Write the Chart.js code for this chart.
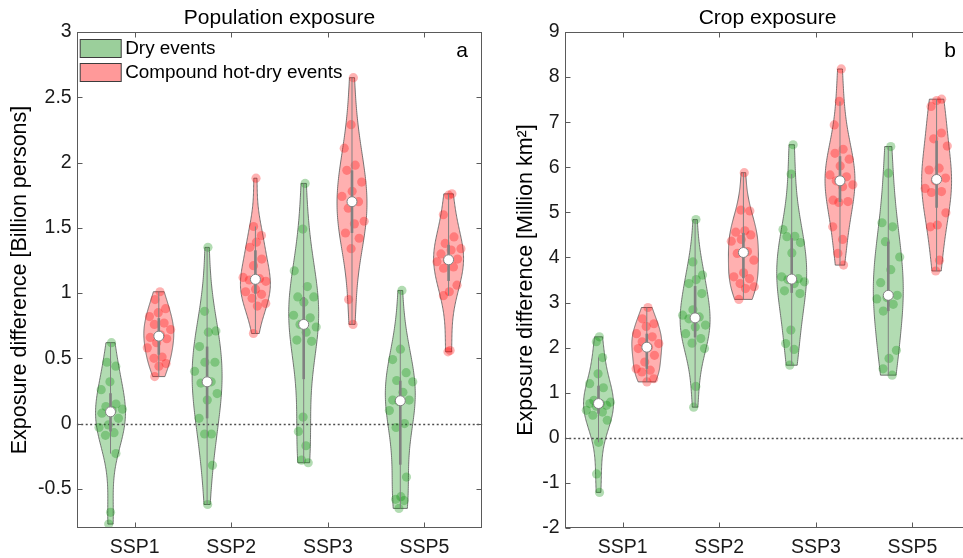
<!DOCTYPE html>
<html>
<head>
<meta charset="utf-8">
<title>Exposure difference</title>
<script src="https://cdn.jsdelivr.net/npm/chart.js@4.4.1/dist/chart.umd.min.js"></script>
<style>
  html, body { margin: 0; padding: 0; background: #fff; }
  body { width: 963px; height: 558px; overflow: hidden; position: relative; }
  canvas { position: absolute; top: 0; }
  #popChart { left: 0; }
  #cropChart { left: 488px; }
</style>
</head>
<body>
<canvas id="popChart" width="487" height="558"></canvas>
<canvas id="cropChart" width="487" height="558"></canvas>
<script>
const categories = ['SSP1', 'SSP2', 'SSP3', 'SSP5'];
const popTicks = [-0.5, 0, 0.5, 1, 1.5, 2, 2.5, 3];
const cropTicks = [-2, -1, 0, 1, 2, 3, 4, 5, 6, 7, 8, 9];

// Population exposure difference [billion persons], one list per scenario
const popDry = [
  [0.62, 0.47, 0.44, 0.32, 0.26, 0.15, 0.13, 0.11, 0.10, 0.08, 0.04, -0.01, -0.03, -0.07, -0.09, -0.23, -0.68, -0.77],
  [1.35, 0.86, 0.71, 0.70, 0.59, 0.47, 0.47, 0.40, 0.32, 0.31, 0.23, 0.18, 0.04, -0.08, -0.08, -0.32, -0.62],
  [1.84, 1.49, 1.17, 1.05, 0.97, 0.97, 0.93, 0.83, 0.81, 0.76, 0.74, 0.70, 0.64, 0.63, 0.05, -0.06, -0.17, -0.28, -0.30],
  [1.02, 0.57, 0.49, 0.39, 0.33, 0.32, 0.24, 0.18, 0.18, 0.17, 0.10, 0.00, -0.03, -0.41, -0.56, -0.58, -0.59, -0.65]
];
const popHotDry = [
  [1.01, 0.95, 0.88, 0.85, 0.82, 0.77, 0.76, 0.72, 0.68, 0.66, 0.65, 0.62, 0.58, 0.51, 0.50, 0.46, 0.44, 0.36],
  [1.88, 1.51, 1.44, 1.39, 1.35, 1.26, 1.21, 1.12, 1.11, 1.10, 1.09, 1.03, 1.01, 0.99, 0.96, 0.92, 0.90, 0.69],
  [2.65, 2.29, 2.11, 1.98, 1.94, 1.85, 1.78, 1.74, 1.70, 1.65, 1.55, 1.53, 1.46, 1.42, 1.34, 0.95, 0.76],
  [1.76, 1.75, 1.60, 1.43, 1.38, 1.34, 1.33, 1.30, 1.26, 1.25, 1.24, 1.20, 1.19, 1.06, 1.01, 0.98, 0.56, 0.55]
];

// Crop exposure difference [million km²]
const cropDry = [
  [2.24, 2.13, 1.78, 1.42, 1.20, 1.11, 0.83, 0.79, 0.76, 0.76, 0.72, 0.70, 0.61, 0.57, 0.50, 0.39, -0.10, -0.80, -1.21],
  [4.84, 3.90, 3.61, 3.51, 3.42, 3.20, 2.84, 2.72, 2.68, 2.64, 2.50, 2.46, 2.31, 2.20, 2.10, 1.98, 1.14, 0.68],
  [6.50, 5.85, 4.62, 4.47, 4.46, 4.33, 4.10, 3.57, 3.53, 3.51, 3.46, 3.42, 3.26, 3.20, 2.39, 2.09, 1.96, 1.61],
  [6.46, 5.87, 4.77, 4.68, 4.35, 4.01, 3.73, 3.44, 3.16, 3.11, 3.08, 2.96, 2.81, 1.94, 1.76, 1.53, 1.39]
];
const cropHotDry = [
  [2.89, 2.64, 2.53, 2.47, 2.31, 2.24, 2.13, 2.09, 2.01, 1.98, 1.83, 1.68, 1.53, 1.50, 1.46, 1.31, 1.24],
  [5.88, 5.05, 5.03, 4.59, 4.56, 4.50, 4.40, 4.36, 4.13, 4.09, 3.94, 3.66, 3.57, 3.53, 3.42, 3.35, 3.31, 3.07],
  [8.18, 7.46, 6.94, 6.40, 6.31, 6.18, 6.03, 5.83, 5.79, 5.70, 5.61, 5.57, 5.27, 5.24, 5.22, 4.68, 4.40, 4.09, 3.83],
  [7.51, 7.48, 7.35, 6.76, 6.63, 6.47, 5.98, 5.94, 5.76, 5.70, 5.53, 5.46, 5.44, 4.99, 4.72, 4.68, 3.94, 3.70]
];

const FONT = "'Liberation Sans', Arial, sans-serif";
const TEXT = '#1a1a1a';
const AXIS = '#5a5a5a';
const BOXGRAY = '#808080';
const OFFSET = 0.25;   // distance of each violin from the category tick
const HALF_W = 0.155;  // max half width of a violin (x units)

const DRY = { label: 'Dry events', fill: 'rgba(0,140,0,0.30)', point: 'rgba(0,140,0,0.30)', swatch: 'rgb(155,207,155)' };
const HOT = { label: 'Compound hot-dry events', fill: 'rgba(255,0,0,0.31)', point: 'rgba(255,0,0,0.30)', swatch: 'rgb(255,153,153)' };

function quantile(sorted, p) {
  const idx = (sorted.length - 1) * p;
  const lo = Math.floor(idx), hi = Math.ceil(idx);
  return sorted[lo] + (sorted[hi] - sorted[lo]) * (idx - lo);
}

// gaussian kernel density (normal reference bandwidth), cut at the data range
function violinStats(vals) {
  const s = [...vals].sort((a, b) => a - b);
  const n = s.length;
  const med = quantile(s, 0.5);
  const mean = s.reduce((t, v) => t + v, 0) / n;
  const sd = Math.sqrt(s.reduce((t, v) => t + (v - mean) * (v - mean), 0) / (n - 1));
  const bw = sd * Math.pow(4 / (3 * n), 0.2);
  const grid = [];
  for (let k = 0; k <= 120; k++) {
    const y = s[0] + (s[n - 1] - s[0]) * k / 120;
    let d = 0;
    s.forEach(v => { d += Math.exp(-0.5 * Math.pow((y - v) / bw, 2)); });
    grid.push({ y, d });
  }
  const maxD = Math.max(...grid.map(g => g.d));
  grid.forEach(g => { g.d /= maxD; });
  const q1 = quantile(s, 0.25), q3 = quantile(s, 0.75), iqr = q3 - q1;
  const lowW = s.find(v => v >= q1 - 1.5 * iqr);
  const highW = [...s].reverse().find(v => v <= q3 + 1.5 * iqr);
  const densAt = v => {
    for (let k = 1; k < grid.length; k++) {
      if (v <= grid[k].y) {
        const t = (v - grid[k - 1].y) / ((grid[k].y - grid[k - 1].y) || 1);
        return grid[k - 1].d + t * (grid[k].d - grid[k - 1].d);
      }
    }
    return grid[grid.length - 1].d;
  };
  return { grid, med, q1, q3, lowW, highW, densAt };
}

function buildSeries(sets, side, style) {
  const stats = sets.map(violinStats);
  const points = [];
  sets.forEach((vals, ci) => {
    vals.forEach((v, i) => {
      const jit = (((i + 1 + ci * 5) * 0.6180339887) % 1) * 2 - 1;
      points.push({ x: ci + 1 + side * OFFSET + jit * HALF_W * stats[ci].densAt(v) * 0.9, y: v });
    });
  });
  return { sets, side, style, stats, points };
}

function violinPlugin(spec) {
  return {
    id: 'violins',
    beforeDatasetsDraw(chart) {
      const { ctx, chartArea: a, scales: { x, y } } = chart;
      ctx.save();
      ctx.beginPath(); ctx.rect(a.left, a.top, a.width, a.height); ctx.clip();
      spec.series.forEach(ser => ser.stats.forEach((st, ci) => {
        const cx = ci + 1 + ser.side * OFFSET;
        ctx.beginPath();
        st.grid.forEach((g, k) => {
          const px = x.getPixelForValue(cx + g.d * HALF_W), py = y.getPixelForValue(g.y);
          if (k) ctx.lineTo(px, py); else ctx.moveTo(px, py);
        });
        for (let k = st.grid.length - 1; k >= 0; k--) {
          const g = st.grid[k];
          ctx.lineTo(x.getPixelForValue(cx - g.d * HALF_W), y.getPixelForValue(g.y));
        }
        ctx.closePath();
        ctx.fillStyle = ser.style.fill;
        ctx.fill();
        ctx.strokeStyle = 'rgba(95,95,95,0.85)';
        ctx.lineWidth = 1;
        ctx.stroke();
      }));
      // zero reference line
      const y0 = Math.round(y.getPixelForValue(0)) + 0.5;
      ctx.beginPath();
      ctx.setLineDash([2, 2.5]);
      ctx.moveTo(a.left, y0); ctx.lineTo(a.right, y0);
      ctx.strokeStyle = '#4d4d4d';
      ctx.lineWidth = 1.4;
      ctx.stroke();
      ctx.restore();
    },
    afterDatasetsDraw(chart) {
      const { ctx, chartArea: a, scales: { x, y } } = chart;
      ctx.save();
      ctx.beginPath(); ctx.rect(a.left, a.top, a.width, a.height); ctx.clip();
      spec.series.forEach(ser => ser.stats.forEach((st, ci) => {
        const px = x.getPixelForValue(ci + 1 + ser.side * OFFSET);
        ctx.strokeStyle = BOXGRAY;
        ctx.lineWidth = 1;
        ctx.beginPath();
        ctx.moveTo(px, y.getPixelForValue(st.lowW));
        ctx.lineTo(px, y.getPixelForValue(st.highW));
        ctx.stroke();
        ctx.fillStyle = BOXGRAY;
        const t = y.getPixelForValue(st.q3), b = y.getPixelForValue(st.q1);
        ctx.fillRect(px - 1.3, t, 2.6, b - t);
        ctx.beginPath();
        ctx.arc(px, y.getPixelForValue(st.med), 5, 0, Math.PI * 2);
        ctx.fillStyle = '#fff';
        ctx.fill();
        ctx.strokeStyle = BOXGRAY;
        ctx.stroke();
      }));
      ctx.restore();
    },
    afterDraw(chart) {
      const { ctx, chartArea: a, scales: { x, y } } = chart;
      ctx.save();
      ctx.strokeStyle = AXIS;
      ctx.lineWidth = 1;
      const L = Math.round(a.left) + 0.5, R = Math.round(a.right) - 0.5;
      const T = Math.round(a.top) + 0.5, B = Math.round(a.bottom) - 0.5;
      ctx.strokeRect(L, T, R - L, B - T);
      ctx.beginPath();
      spec.yTicks.forEach(v => {
        const py = Math.round(y.getPixelForValue(v)) + 0.5;
        ctx.moveTo(L, py); ctx.lineTo(L + 5, py);
        ctx.moveTo(R, py); ctx.lineTo(R - 5, py);
      });
      categories.forEach((c, i) => {
        const px = Math.round(x.getPixelForValue(i + 1)) + 0.5;
        ctx.moveTo(px, B); ctx.lineTo(px, B - 5);
        ctx.moveTo(px, T); ctx.lineTo(px, T + 5);
      });
      ctx.stroke();

      ctx.fillStyle = '#000';
      ctx.font = `21px ${FONT}`;
      ctx.textAlign = 'center';
      ctx.textBaseline = 'alphabetic';
      ctx.fillText(spec.letter, a.left + 385.5, a.top + 25);

      if (spec.legend) {
        spec.series.forEach((ser, k) => {
          const by = a.top + 7 + k * 24;
          ctx.fillStyle = ser.style.swatch;
          ctx.fillRect(a.left + 3.5, by, 41, 18);
          ctx.strokeStyle = '#3c3c3c';
          ctx.strokeRect(a.left + 3.5, by + 0.5, 41, 18);
          ctx.fillStyle = '#000';
          ctx.font = `18.9px ${FONT}`;
          ctx.textAlign = 'left';
          ctx.textBaseline = 'middle';
          ctx.fillText(ser.style.label, a.left + 48.5, by + 10);
        });
      }
      ctx.restore();
    }
  };
}

function makePanel(canvasId, spec) {
  const series = [buildSeries(spec.dry, -1, DRY), buildSeries(spec.hot, 1, HOT)];
  spec.series = series;
  return new Chart(document.getElementById(canvasId), {
    type: 'scatter',
    data: {
      datasets: series.map(ser => ({
        label: ser.style.label,
        data: ser.points,
        pointRadius: 4.6,
        pointBorderWidth: 0,
        pointBackgroundColor: ser.style.point,
        pointHoverRadius: 4.6
      }))
    },
    options: {
      responsive: false,
      animation: false,
      events: [],
      layout: { padding: { left: 0, right: 3.7, top: 0, bottom: 0 } },
      plugins: {
        legend: { display: false },
        tooltip: { enabled: false },
        title: {
          display: true,
          text: spec.title,
          fullSize: false,
          color: '#000',
          font: { family: FONT, size: 21, weight: 'normal' },
          padding: { top: 6, bottom: 0.8 }
        }
      },
      scales: {
        x: {
          type: 'linear',
          min: 0.4,
          max: 4.6,
          afterBuildTicks: s => { s.ticks = categories.map((c, i) => ({ value: i + 1 })); },
          afterFit: s => { s.height = 30; },
          grid: { display: false, drawTicks: false },
          border: { display: false },
          ticks: {
            callback: v => categories[v - 1],
            color: TEXT,
            font: { family: FONT, size: 19.5 },
            padding: 8,
            maxRotation: 0,
            autoSkip: false
          }
        },
        y: {
          min: spec.yMin,
          max: spec.yMax,
          afterBuildTicks: s => { s.ticks = spec.yTicks.map(v => ({ value: v })); },
          afterFit: s => { s.width = 76.7; },
          grid: { display: false, drawTicks: false },
          border: { display: false },
          ticks: {
            callback: v => String(v),
            color: TEXT,
            font: { family: FONT, size: 19.5 },
            padding: 5
          },
          title: {
            display: true,
            text: spec.yTitle,
            color: '#000',
            font: { family: FONT, size: 21.5 },
            padding: { top: spec.yTitlePad, bottom: 0 }
          }
        }
      }
    },
    plugins: [violinPlugin(spec)]
  });
}

makePanel('popChart', {
  title: 'Population exposure',
  yTitle: 'Exposure difference [Billion persons]',
  yTitlePad: 7.2,
  yMin: -0.8, yMax: 3, yTicks: popTicks,
  dry: popDry, hot: popHotDry,
  letter: 'a', legend: true
});

makePanel('cropChart', {
  title: 'Crop exposure',
  yTitle: 'Exposure difference [Million km²]',
  yTitlePad: 25.2,
  yMin: -2, yMax: 9, yTicks: cropTicks,
  dry: cropDry, hot: cropHotDry,
  letter: 'b', legend: false
});
</script>
</body>
</html>
